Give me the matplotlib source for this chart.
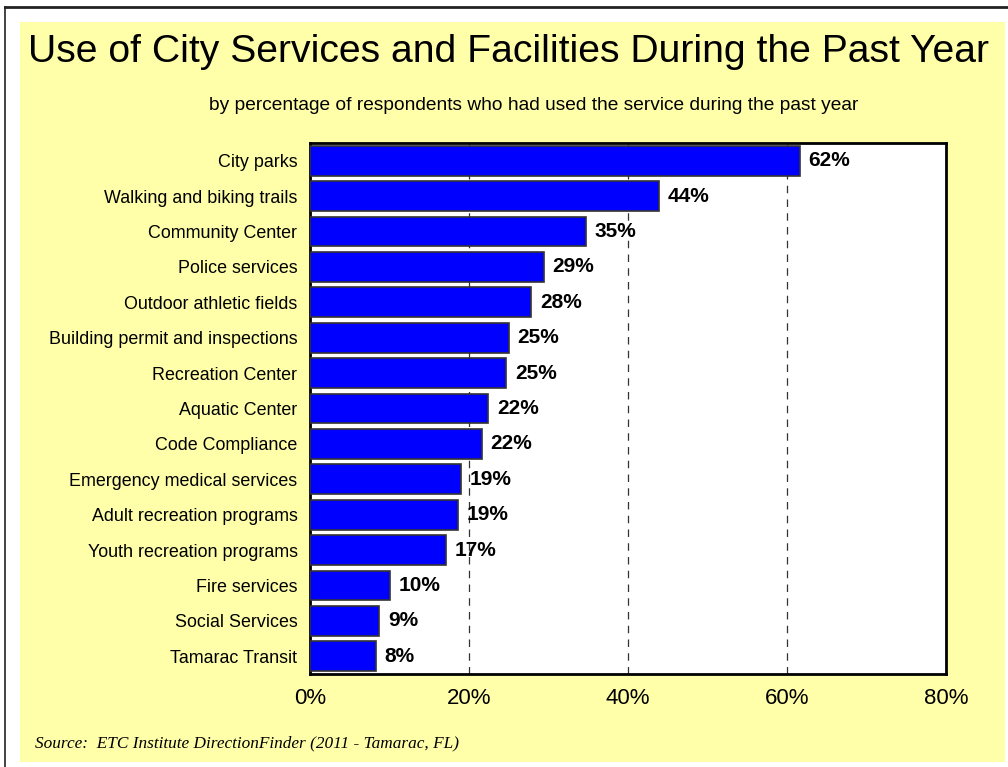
import matplotlib.pyplot as plt
from matplotlib.patches import Rectangle
from matplotlib.lines import Line2D

# Datos del grafico
servicios = ['City parks', 'Walking and biking trails', 'Community Center',
             'Police services', 'Outdoor athletic fields',
             'Building permit and inspections', 'Recreation Center',
             'Aquatic Center', 'Code Compliance', 'Emergency medical services',
             'Adult recreation programs', 'Youth recreation programs',
             'Fire services', 'Social Services', 'Tamarac Transit']
porcentajes = [61.6, 43.9, 34.7, 29.4, 27.8, 25.0, 24.7, 22.4, 21.6, 19.0,
               18.6, 17.1, 10.0, 8.7, 8.3]
ticks_x = [0, 20, 40, 60, 80]

W, H = 1008, 767
fig = plt.figure(figsize=(W / 100, H / 100), dpi=100)
fig.patch.set_facecolor('white')

# Fondo amarillo y bordes
fig.patches.append(Rectangle((20 / W, 1 - 762 / H), 985 / W, 740 / H,
                             transform=fig.transFigure, facecolor='#FFFFAA',
                             edgecolor='none', zorder=-10))
fig.lines.append(Line2D([5 / W, 1], [1 - 7 / H, 1 - 7 / H], transform=fig.transFigure,
                        color='#222222', lw=2))
fig.lines.append(Line2D([5 / W, 5 / W], [0, 1 - 7 / H], transform=fig.transFigure,
                        color='#222222', lw=1.2))

ax = fig.add_axes([310 / W, 1 - 674 / H, 636 / W, 531 / H])
ax.set_zorder(5)
ax.set_facecolor('white')

y = list(range(len(servicios)))
ax.barh(y, porcentajes, height=0.84, color='#0000FF', edgecolor='#333333',
        linewidth=1.2, zorder=3)

for yi, v in zip(y, porcentajes):
    ax.text(v + 1.1, yi, '%d%%' % round(v), va='center', ha='left',
            fontsize=15, fontweight='bold', family='Liberation Sans', zorder=4)

ax.set_xlim(0, 80)
ax.set_ylim(len(servicios) - 0.5, -0.5)
ax.set_xticks(ticks_x)
ax.set_xticklabels(['%d%%' % t for t in ticks_x], fontsize=16, family='Liberation Sans')
ax.set_yticks(y)
ax.set_yticklabels(servicios, fontsize=12.9, family='Liberation Sans')
ax.tick_params(axis='both', length=0)
ax.tick_params(axis='x', pad=10)
ax.tick_params(axis='y', pad=9)

for t in ticks_x[1:-1]:
    ax.axvline(t, color='#333333', lw=0.9, ls=(0, (6, 5)), zorder=1)

for s in ax.spines.values():
    s.set_linewidth(2)
    s.set_color('black')

fig.text(509 / W, 1 - 52 / H, 'Use of City Services and Facilities During the Past Year',
         ha='center', va='center', fontsize=28.2, family='Liberation Sans')
fig.text(534 / W, 1 - 105 / H,
         'by percentage of respondents who had used the service during the past year',
         ha='center', va='center', fontsize=13.8, family='Liberation Sans')
fig.text(35 / W, 1 - 743 / H, 'Source:  ETC Institute DirectionFinder (2011 - Tamarac, FL)',
         ha='left', va='center', fontsize=12.4, family='Liberation Serif', style='italic')

fig.savefig('out.png', dpi=100)
